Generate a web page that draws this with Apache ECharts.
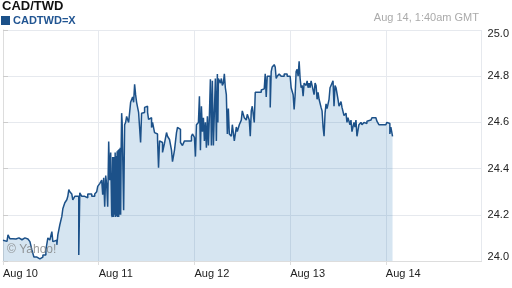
<!DOCTYPE html>
<html>
<head>
<meta charset="utf-8">
<script src="https://cdn.jsdelivr.net/npm/echarts@6/dist/echarts.min.js"></script>
<style>
html,body{margin:0;padding:0;background:#fff;}
#chart{width:512px;height:288px;}
</style>
</head>
<body>
<div id="chart"></div>
<script>
// Hours since Aug 10 00:00 GMT
const hours = [
0,0.5,1,1.25,1.75,2.5,3.25,4,4.75,5.5,6.25,6.75,7.25,7.75,8.5,9.25,10,10.75,11.25,11.75,
12.25,12.5,13,13.5,13.75,14.25,14.75,15,15.5,16,16.25,16.5,16.75,17.25,17.5,18,18.5,19,19.25,19.75,
20.5,21.25,22.25,23,23.5,23.75,24.25,24.75,25,25.25,25.5,25.75,26,26.25,26.5,26.75,27,27.25,27.375,27.5,
27.625,27.75,27.875,28,28.125,28.25,28.375,28.5,28.625,28.75,28.875,29,29.125,29.25,29.375,29.5,29.625,29.75,29.875,30,
30.25,30.5,30.75,31,31.25,31.5,32,32.25,32.5,32.75,33,33.25,33.5,33.75,34,34.5,34.75,35,35.5,36,
36.25,36.5,36.75,37.25,37.5,38,38.5,38.75,39,39.25,39.5,40,40.5,41,41.25,41.75,42.25,42.5,43,43.5,
43.75,44.25,44.5,45,45.5,46.25,47.25,47.5,48,48.25,48.5,49,49.25,49.5,49.75,50,50.25,50.5,50.75,51,
51.25,51.5,51.75,52,52.125,52.25,52.5,52.75,53.25,53.5,53.75,53.875,54,54.5,54.75,55,55.25,55.5,55.75,56,
56.25,56.5,56.75,57.25,57.5,58,58.5,58.75,59.25,59.75,60,60.5,61,61.25,61.75,62,62.25,62.5,63,63.25,
63.75,64.75,65,65.5,65.75,66,66.25,66.75,67,67.25,67.5,68,68.25,68.5,68.75,69.25,69.75,70.5,71.25,72,
72.25,72.75,73,73.25,73.5,73.75,74,74.25,74.5,74.75,75,75.25,75.5,76,76.25,76.5,76.75,77,77.25,77.5,
78,78.25,78.5,78.75,79,79.25,79.75,80,80.25,80.5,80.75,81,81.25,81.75,82,82.25,82.75,83,83.25,83.5,
84,84.25,84.75,85,85.5,86,86.25,86.5,87,87.25,87.5,88,88.25,88.5,88.75,89.25,89.75,90,90.5,91,
91.25,91.75,92.25,92.5,93,93.5,93.75,94.25,94.75,95,95.5,96,96.25,96.75,97,97.25,97.67
];
const rates = [
24.090,24.085,24.078,24.113,24.096,24.095,24.100,24.092,24.100,24.095,24.098,24.084,24.048,24.017,24.009,24.017,24.026,24.048,24.100,24.091,
24.127,24.084,24.090,24.070,24.113,24.157,24.193,24.226,24.252,24.265,24.280,24.309,24.300,24.290,24.265,24.280,24.280,24.026,24.295,24.280,
24.274,24.290,24.280,24.290,24.300,24.323,24.335,24.350,24.287,24.360,24.235,24.370,24.330,24.235,24.517,24.350,24.470,24.200,24.190,24.450,
24.420,24.190,24.450,24.200,24.470,24.190,24.455,24.195,24.475,24.190,24.480,24.190,24.485,24.200,24.490,24.200,24.490,24.640,24.600,24.600,
24.220,24.590,24.600,24.626,24.620,24.600,24.687,24.680,24.710,24.687,24.765,24.720,24.687,24.690,24.643,24.513,24.640,24.643,24.665,24.670,
24.643,24.613,24.620,24.578,24.600,24.556,24.550,24.526,24.404,24.520,24.513,24.470,24.510,24.556,24.540,24.526,24.480,24.430,24.480,24.556,
24.578,24.570,24.513,24.500,24.520,24.520,24.540,24.550,24.535,24.452,24.590,24.600,24.713,24.480,24.670,24.560,24.620,24.520,24.600,24.490,
24.626,24.500,24.630,24.787,24.670,24.500,24.780,24.500,24.790,24.520,24.810,24.600,24.790,24.770,24.790,24.760,24.770,24.810,24.750,24.720,
24.550,24.660,24.550,24.540,24.590,24.520,24.580,24.560,24.590,24.610,24.650,24.620,24.610,24.635,24.610,24.540,24.650,24.670,24.600,24.730,
24.730,24.740,24.745,24.740,24.810,24.710,24.800,24.800,24.665,24.820,24.840,24.850,24.840,24.790,24.800,24.810,24.800,24.810,24.800,24.805,
24.750,24.720,24.656,24.720,24.820,24.830,24.800,24.865,24.790,24.750,24.760,24.713,24.770,24.760,24.780,24.750,24.770,24.750,24.780,24.760,
24.720,24.770,24.760,24.700,24.730,24.700,24.665,24.650,24.580,24.540,24.640,24.680,24.660,24.700,24.750,24.760,24.780,24.670,24.760,24.750,
24.700,24.670,24.690,24.665,24.630,24.640,24.600,24.620,24.590,24.610,24.560,24.600,24.580,24.610,24.540,24.590,24.600,24.590,24.600,24.595,
24.605,24.610,24.615,24.620,24.620,24.620,24.605,24.590,24.590,24.585,24.590,24.585,24.600,24.595,24.550,24.580,24.540
];
const dayLabels = ['Aug 10','Aug 11','Aug 12','Aug 13','Aug 14'];
const yTicks = [24.0,24.2,24.4,24.6,24.8,25.0];

const FONT = '"Liberation Sans", Arial, sans-serif';
const chart = echarts.init(document.getElementById('chart'), null, {renderer:'canvas'});
const data = hours.map((h,i)=>[h, rates[i]]);
chart.setOption({
  animation:false,
  backgroundColor:'#fff',
  textStyle:{fontFamily:FONT},
  grid:{left:3,right:29,top:30,bottom:27,containLabel:false},
  legend:{
    data:['CADTWD=X'], left:1, top:15, padding:0, icon:'rect', itemWidth:9, itemHeight:9, itemGap:4,
    textStyle:{fontFamily:FONT,fontSize:11,fontWeight:'bold',color:'#215592',padding:[0,0,0,-2]}
  },
  graphic:[
    {type:'text',left:2,top:0,style:{text:'CAD/TWD',font:'bold 13px '+FONT,fill:'#111'}},
    {type:'text',right:33,top:12,style:{text:'Aug 14, 1:40am GMT',font:'11px '+FONT,fill:'#aaa'}},
    {type:'text',left:7,top:244,z:100,style:{text:'\u00a9 Yahoo!',font:'12px '+FONT,fill:'rgba(120,120,120,0.75)'}}
  ],
  xAxis:{
    type:'value',min:0,max:120,interval:24,
    axisLine:{show:true,lineStyle:{color:'#dddddd',width:1}},
    axisTick:{show:true,length:4,lineStyle:{color:'#dddddd'}},
    axisLabel:{
      formatter:(v)=>dayLabels[Math.round(v/24)]||'',
      align:'left',margin:7,color:'#222',fontSize:11,fontFamily:FONT,showMaxLabel:false
    },
    splitLine:{show:true,lineStyle:{color:'#e6e9ee',width:1}}
  },
  yAxis:{
    type:'value',position:'right',min:24,max:25,interval:0.2,
    axisLine:{show:true,lineStyle:{color:'#dddddd',width:1}},
    axisTick:{show:true,length:5,lineStyle:{color:'#cccccc'}},
    axisLabel:{formatter:(v)=>{
        const i=yTicks.findIndex(x=>Math.abs(x-v)<1e-6);
        if(i<0) return '';
        const s=yTicks[i].toFixed(1);
        if(i===yTicks.length-1) return '{top|'+s+'}';
        if(i===0) return '{bot|'+s+'}';
        return s;
      },
      rich:{top:{padding:[8,0,0,0],fontSize:11,color:'#222',fontFamily:FONT},bot:{padding:[0,0,8,0],fontSize:11,color:'#222',fontFamily:FONT}},
      margin:6,color:'#222',fontSize:11,fontFamily:FONT},
    splitLine:{show:true,lineStyle:{color:'#e6e9ee',width:1}}
  },
  series:[{
    name:'CADTWD=X',type:'line',step:'end',showSymbol:false,data:data,
    color:'#1c5189',
    lineStyle:{color:'#1c5189',width:1.5},
    areaStyle:{color:'rgba(25,110,175,0.18)',opacity:1}
  }]
});
</script>
</body>
</html>
